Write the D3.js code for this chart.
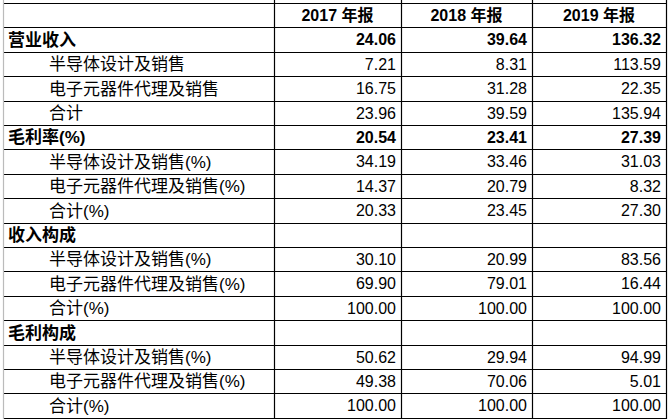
<!DOCTYPE html>
<html><head><meta charset="utf-8">
<script src="https://cdn.jsdelivr.net/npm/d3@7"></script>
<style>body{margin:0;background:#fff}</style>
</head><body><div id="root"></div>
<script>
const headers = ["2017 年报", "2018 年报", "2019 年报"];
const rowLabels = [
  "营业收入", "半导体设计及销售", "电子元器件代理及销售", "合计",
  "毛利率(%)", "半导体设计及销售(%)", "电子元器件代理及销售(%)", "合计(%)",
  "收入构成", "半导体设计及销售(%)", "电子元器件代理及销售(%)", "合计(%)",
  "毛利构成", "半导体设计及销售(%)", "电子元器件代理及销售(%)", "合计(%)"
];
const isGroup = [1,0,0,0, 1,0,0,0, 1,0,0,0, 1,0,0,0];
const v2017 = ["24.06","7.21","16.75","23.96","20.54","34.19","14.37","20.33","","30.10","69.90","100.00","","50.62","49.38","100.00"];
const v2018 = ["39.64","8.31","31.28","39.59","23.41","33.46","20.79","23.45","","20.99","79.01","100.00","","29.94","70.06","100.00"];
const v2019 = ["136.32","113.59","22.35","135.94","27.39","31.03","8.32","27.30","","83.56","16.44","100.00","","94.99","5.01","100.00"];

const width = 670, height = 419;
const colEdges = [3, 274, 401, 532, 666];
const series = [v2017, v2018, v2019];

const y = d3.scaleBand().domain(d3.range(rowLabels.length + 1)).range([3, 3 + 24.4 * 17]);

const svg = d3.select("#root").append("svg").attr("width", width).attr("height", height)
  .style("font-family", "Liberation Sans, Arial, Noto Sans CJK SC, sans-serif");

// grid lines
const g = svg.append("g").attr("stroke", "#000").attr("stroke-width", 1.2);
d3.range(rowLabels.length + 2).forEach(i => {
  const yy = Math.round(y.range()[0] + i * y.step()) + 0.5;
  g.append("line").attr("x1", colEdges[0]).attr("x2", colEdges[4]).attr("y1", yy).attr("y2", yy);
});
colEdges.forEach((x, i) => {
  g.append("line").attr("x1", x + 0.5).attr("x2", x + 0.5).attr("y1", 0).attr("y2", height)
    .attr("stroke", i === 0 ? "#bbb" : "#000");
});

// header
svg.selectAll("text.h").data(headers).join("text")
  .attr("x", (d, i) => (colEdges[i + 1] + colEdges[i + 2]) / 2)
  .attr("y", y(0) + y.step() / 2).attr("dy", "0.36em")
  .attr("text-anchor", "middle").attr("font-weight", "bold").attr("font-size", 16).text(d => d);

// labels
svg.selectAll("text.l").data(rowLabels).join("text")
  .attr("x", (d, i) => isGroup[i] ? 8 : 49)
  .attr("y", (d, i) => y(i + 1) + y.step() / 2).attr("dy", "0.36em")
  .attr("font-weight", (d, i) => isGroup[i] ? "bold" : "normal")
  .attr("font-size", 17).text(d => d);

// values
series.forEach((vals, c) => {
  svg.append("g").selectAll("text").data(vals).join("text")
    .attr("x", colEdges[c + 2] - 5)
    .attr("y", (d, i) => y(i + 1) + y.step() / 2).attr("dy", "0.36em")
    .attr("text-anchor", "end")
    .attr("font-weight", (d, i) => isGroup[i] ? "bold" : "normal")
    .attr("font-size", 16).text(d => d);
});
</script></body></html>
